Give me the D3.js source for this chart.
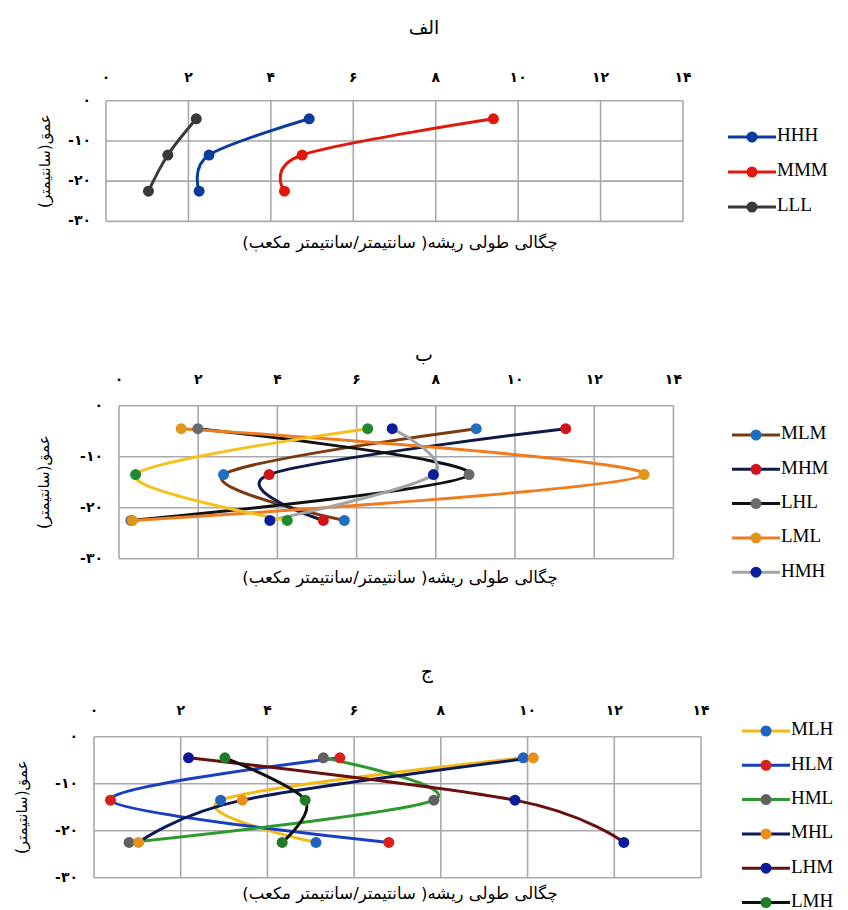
<!DOCTYPE html>
<html>
<head>
<meta charset="utf-8">
<script src="https://cdn.jsdelivr.net/npm/d3@7"></script>
<style>
  body { margin: 0; background: #fff; }
  svg { display: block; }
</style>
</head>
<body>
<div class="charts"></div>
<script>
// depths shared by every series (cm)
const depth = [-4.5, -13.5, -22.5];
const xTicks = [0, 2, 4, 6, 8, 10, 12, 14];
const xTickLabels = ["۰", "۲", "۴", "۶", "۸", "۱۰", "۱۲", "۱۴"];
const yTicks = [0, -10, -20, -30];
const yTickLabels = ["۰", "-۱۰", "-۲۰", "-۳۰"];

// panel الف
const namesA = ["HHH", "MMM", "LLL"];
const hhh = [4.93, 2.50, 2.26];
const mmm = [9.40, 4.76, 4.33];
const lll = [2.19, 1.50, 1.03];

// panel ب
const namesB = ["MLM", "MHM", "LHL", "LML", "HMH", "HLH"];
const mlm = [9.02, 2.64, 5.69];
const mhm = [11.28, 3.79, 5.16];
const lhl = [1.99, 8.84, 0.30];
const lml = [1.57, 13.26, 0.34];
const hmh = [6.90, 7.94, 3.81];
const hlh = [6.28, 0.42, 4.25];

// panel ج
const namesC = ["MLH", "HLM", "HML", "MHL", "LHM", "LMH"];
const mlh = [9.90, 2.92, 5.12];
const hlm = [5.67, 0.38, 6.80];
const hml = [5.29, 7.84, 0.81];
const mhl = [10.13, 3.42, 1.03];
const lhm = [2.18, 9.71, 12.22];
const lmh = [3.02, 4.87, 4.34];

const xTitle = "چگالی طولی ریشه( سانتیمتر/سانتیمتر مکعب)";
const yTitle = "عمق(سانتیمتر)";
const arFont = "'DejaVu Sans', sans-serif";

var svg = d3.select(".charts").append("svg")
  .attr("width", 848)
  .attr("height", 910);

function panel(opt) {
  var x = d3.scaleLinear().domain([0, 14]).range([opt.left, opt.right]);
  var y = d3.scaleLinear().domain([0, -30]).range([opt.top, opt.bottom]);
  var g = svg.append("g");

  // title
  g.append("text")
    .attr("x", opt.titleX).attr("y", opt.titleY)
    .attr("text-anchor", "middle")
    .attr("dominant-baseline", "middle")
    .style("font-family", arFont).style("font-size", "19px")
    .text(opt.title);

  // grid + frame
  g.selectAll(".vgrid").data(xTicks).enter().append("line")
    .attr("x1", d => x(d)).attr("x2", d => x(d))
    .attr("y1", opt.top).attr("y2", opt.bottom)
    .attr("stroke", "#a9a9a9").attr("stroke-width", 1.6);
  g.selectAll(".hgrid").data(yTicks).enter().append("line")
    .attr("x1", opt.left).attr("x2", opt.right)
    .attr("y1", d => y(d)).attr("y2", d => y(d))
    .attr("stroke", "#a9a9a9").attr("stroke-width", 1.6);

  // top axis labels
  g.selectAll(".xlab").data(xTicks).enter().append("text")
    .attr("x", d => x(d)).attr("y", opt.tickY)
    .attr("text-anchor", "middle")
    .attr("dominant-baseline", "middle")
    .style("font-family", arFont).style("font-size", "14px").style("font-weight", "bold")
    .text((d, i) => xTickLabels[i]);

  g.selectAll(".ylab").data(yTicks).enter().append("text")
    .attr("x", opt.left - opt.yLabGap).attr("y", d => y(d))
    .attr("text-anchor", "end")
    .attr("dominant-baseline", "middle")
    .attr("direction", "ltr")
    .style("font-family", arFont).style("font-size", "14px").style("font-weight", "bold")
    .text((d, i) => yTickLabels[i]);

  // axis titles
  g.append("text")
    .attr("x", opt.xTitleX).attr("y", opt.xTitleY)
    .attr("text-anchor", "middle")
    .attr("dominant-baseline", "middle")
    .style("font-family", arFont).style("font-size", "16.5px")
    .text(xTitle);
  g.append("text")
    .attr("transform", "translate(" + opt.yTitleX + "," + ((opt.top + opt.bottom) / 2) + ") rotate(-90)")
    .attr("text-anchor", "middle")
    .attr("dominant-baseline", "middle")
    .style("font-family", arFont).style("font-size", "15px")
    .text(yTitle);

  var line = d3.line()
    .x(d => x(d[0])).y(d => y(d[1]))
    .curve(d3.curveCatmullRom.alpha(0));

  opt.series.forEach(function(s) {
    var pts = s.values.map((v, i) => [v, depth[i]]);
    g.append("path")
      .attr("d", line(pts))
      .attr("fill", "none")
      .attr("stroke", s.line)
      .attr("stroke-width", 3);
  });
  opt.series.forEach(function(s) {
    var pts = s.values.map((v, i) => [v, depth[i]]);
    g.selectAll(null).data(pts).enter().append("circle")
      .attr("cx", d => x(d[0])).attr("cy", d => y(d[1]))
      .attr("r", 5.5)
      .attr("fill", s.marker);
  });

  // legend
  var items = opt.series.filter(s => s.legend !== false);
  items.forEach(function(s, i) {
    var ly = opt.legY + i * opt.legStep;
    g.append("line")
      .attr("x1", opt.legX).attr("x2", opt.legX + 48)
      .attr("y1", ly).attr("y2", ly)
      .attr("stroke", s.line).attr("stroke-width", 3);
    g.append("circle")
      .attr("cx", opt.legX + 24).attr("cy", ly).attr("r", 5.5)
      .attr("fill", s.marker);
    g.append("text")
      .attr("x", opt.legX + 49).attr("y", ly)
      .attr("dominant-baseline", "middle")
      .style("font-family", "'Liberation Serif', serif").style("font-size", "19px")
      .text(s.name);
  });
}

panel({
  title: "الف", titleX: 424, titleY: 28, tickY: 78,
  left: 106, right: 683, top: 100.7, bottom: 221.4, yLabGap: 15,
  xTitleX: 400, xTitleY: 243, yTitleX: 45,
  legX: 728, legY: 137, legStep: 35,
  series: [
    { name: namesA[0], values: hhh, line: "#0b3b9c", marker: "#0b3b9c" },
    { name: namesA[1], values: mmm, line: "#e0190c", marker: "#e0190c" },
    { name: namesA[2], values: lll, line: "#3a3a3a", marker: "#3a3a3a" }
  ]
});

panel({
  title: "ب", titleX: 424, titleY: 355, tickY: 380,
  left: 119, right: 673.4, top: 405.7, bottom: 558.7, yLabGap: 16,
  xTitleX: 400, xTitleY: 578, yTitleX: 44,
  legX: 732, legY: 435, legStep: 34.3,
  series: [
    { name: namesB[5], values: hlh, line: "#f5c11a", marker: "#1f8a2c", legend: false },
    { name: namesB[4], values: hmh, line: "#a3a3a3", marker: "#0a1f9c" },
    { name: namesB[3], values: lml, line: "#ee7d22", marker: "#e0961a" },
    { name: namesB[2], values: lhl, line: "#111111", marker: "#6b6b6b" },
    { name: namesB[0], values: mlm, line: "#7a3b12", marker: "#1f6fc0" },
    { name: namesB[1], values: mhm, line: "#0d1a4a", marker: "#d0141a" }
  ].sort((a, b) => namesB.indexOf(a.name) - namesB.indexOf(b.name))
});

panel({
  title: "ج", titleX: 427, titleY: 672, tickY: 711,
  left: 94, right: 701, top: 736.7, bottom: 877.7, yLabGap: 16,
  xTitleX: 400, xTitleY: 894, yTitleX: 22,
  legX: 742, legY: 731, legStep: 34.3,
  series: [
    { name: namesC[0], values: mlh, line: "#f5b915", marker: "#1f62c0" },
    { name: namesC[1], values: hlm, line: "#1a3ec0", marker: "#d8201c" },
    { name: namesC[2], values: hml, line: "#2e9a2e", marker: "#606060" },
    { name: namesC[3], values: mhl, line: "#0c1a5a", marker: "#e8901a" },
    { name: namesC[4], values: lhm, line: "#6a0f0f", marker: "#0a1a9a" },
    { name: namesC[5], values: lmh, line: "#111111", marker: "#1f7a2a" }
  ]
});
</script>
</body>
</html>
